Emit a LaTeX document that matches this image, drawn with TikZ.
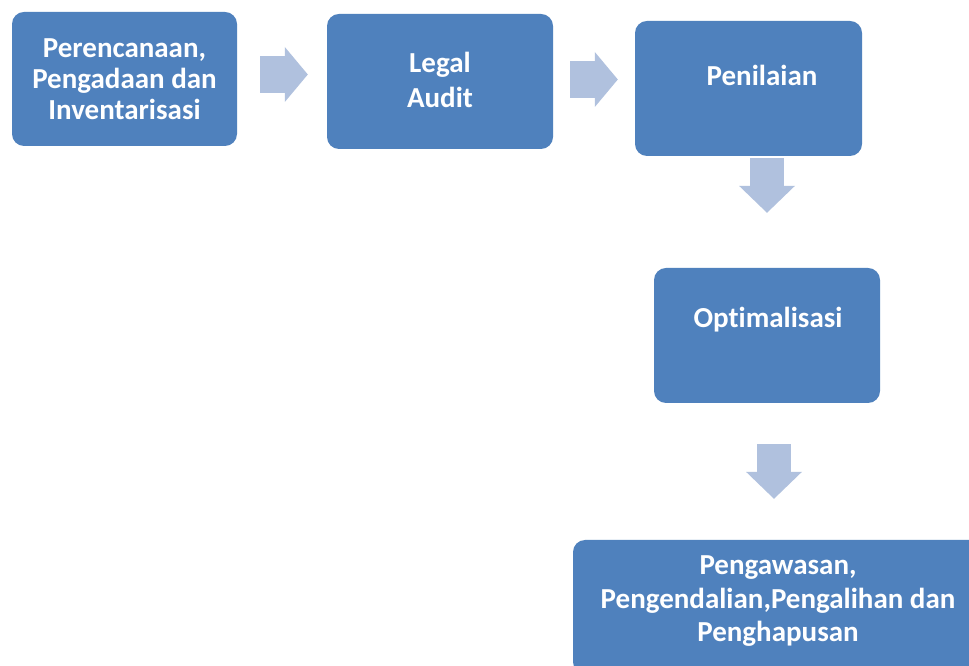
\documentclass[tikz,border=0pt]{standalone}
\usepackage{fontspec}
\setmainfont[Ligatures=NoCommon]{Carlito}
\usetikzlibrary{arrows.meta}
\definecolor{boxblue}{RGB}{79,129,189}
\definecolor{arrblue}{RGB}{176,193,222}
\tikzset{ box/.style = { rectangle % process step
        , rounded corners = 12pt
        , fill = boxblue
        , inner sep = 0pt
        , minimum width = 226pt
        , minimum height = 135pt
        }
        , txt/.style = { align = center % white label
        , text = white
        , inner sep = 0pt
        , font = \bfseries\fontsize{29}{31}\selectfont
        }
        , harr/.style = { arrblue % block arrow, to the right
        , line width = 37pt
        , -{Triangle[length=23pt, width=55pt, line width=0pt]}
        }
        , varr/.style = { arrblue % block arrow, downwards
        , line width = 34pt
        , -{Triangle[length=27pt, width=56pt, line width=0pt]}
        }
}

\begin{document}
\begin{tikzpicture}[x=1pt, y=1pt]
    \clip (0,0) rectangle (969,666);
    \fill[white] (0,0) rectangle (969,666);

    \node[box, minimum width=225pt, minimum height=134pt] (per) at (124.5,587) {};
    \node[txt] (perT) at (124.5,587) {Perencanaan,\\Pengadaan dan\\Inventarisasi};
    \node[box] (leg) at (440,584.5) {};
    \node[txt, font=\bfseries\fontsize{29}{35}\selectfont] (legT) at (440,586) {Legal\\Audit};
    \node[box, minimum width=227pt] (pen) at (748.5,577.5) {};
    \node[txt] (penT) at (762,591) {Penilaian};
    \node[box] (opt) at (767,330.5) {};
    \node[txt] (optT) at (768,346) {Optimalisasi};
    \node[box, minimum width=410pt, minimum height=134pt] (bot) at (778,59) {};
    \node[txt, font=\bfseries\fontsize{29}{33.5}\selectfont] (botT) at (778,64.5) {Pengawasan,\\Pengendalian,Pengalihan dan\\Penghapusan};

    \draw[harr] ([shift={(23,4.5)}]per.east) -- ([shift={(-19,7)}]leg.west);
    \draw[harr] ([shift={(17,2)}]leg.east) -- ([shift={(-17,9)}]pen.west);
    \draw[varr] ([shift={(18.5,-2)}]pen.south) -- ([shift={(0,55)}]opt.north);
    \draw[varr] ([shift={(7,-41)}]opt.south) -- ([shift={(-4,41)}]bot.north);
\end{tikzpicture}
\end{document}
